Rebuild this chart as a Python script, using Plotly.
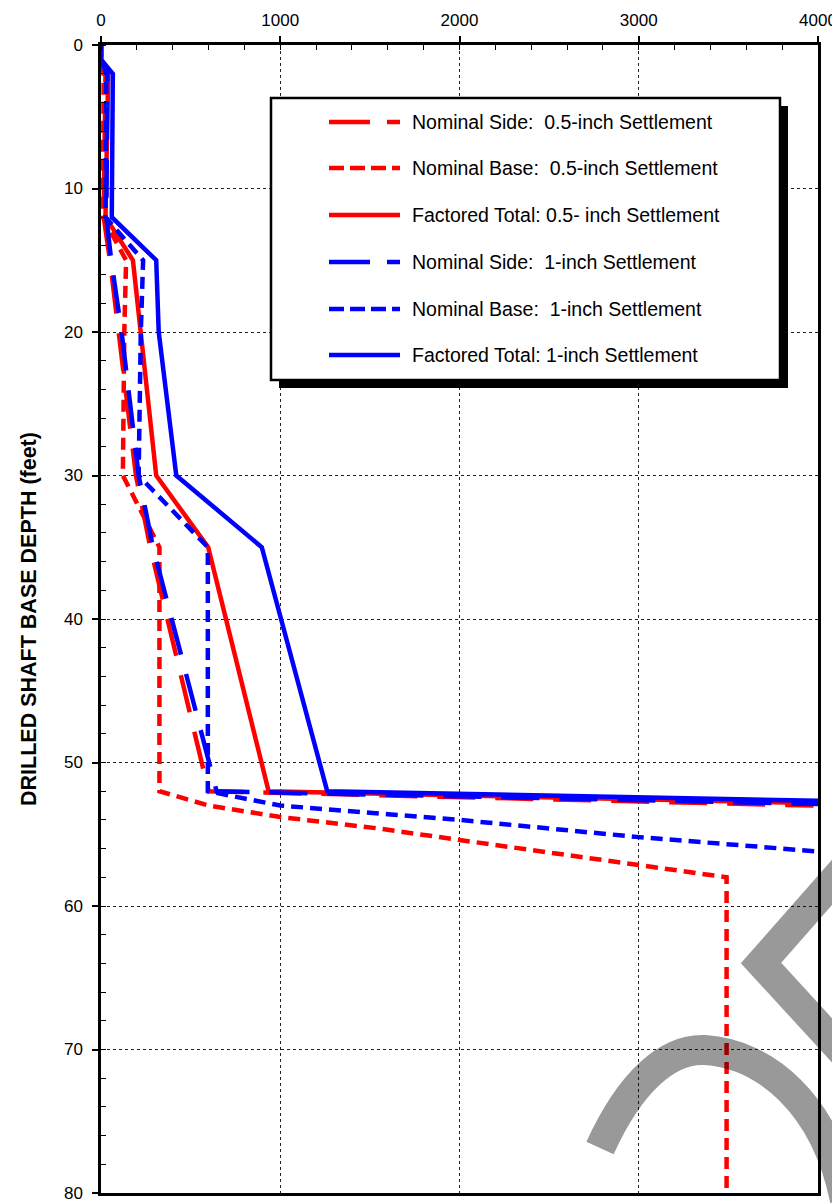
import plotly.graph_objects as go

# ---------------- data ----------------
depth = [0, 1, 2, 12, 15, 20, 30, 35, 52, 53]

side_05 = [0, 0, 25, 15, 50, 100, 195, 275, 600, 3975]
total_05 = [0, 0, 40, 25, 178, 220, 308, 598, 935, 4575]
side_1 = [0, 0, 35, 30, 57, 115, 210, 290, 645, 4391]
total_1 = [0, 0, 66, 60, 308, 322, 420, 897, 1262, 5391]

base_05_depth = [0, 1, 2, 12, 15, 20, 30, 35, 52, 53, 53.8, 54.6, 55.4, 57.1, 58, 80]
base_05 = [0, 0, 15, 10, 140, 130, 122, 326, 326, 600, 1000, 1550, 2000, 3000, 3490, 3490]

base_1_depth = [0, 1, 2, 12, 15, 20, 30, 35, 52, 52.4, 53, 53.6, 54, 55.2, 56.2]
base_1 = [0, 0, 30, 25, 235, 222, 210, 596, 596, 754, 1000, 1600, 2000, 3000, 4000]

x_ticks = [0, 1000, 2000, 3000, 4000]
y_ticks = [0, 10, 20, 30, 40, 50, 60, 70, 80]

names = [
    "Nominal Side: \u00a00.5-inch Settlement",
    "Nominal Base: \u00a00.5-inch Settlement",
    "Factored Total: 0.5- inch Settlement",
    "Nominal Side: \u00a01-inch Settlement",
    "Nominal Base: \u00a01-inch Settlement",
    "Factored Total: 1-inch Settlement",
]

RED = "#FF0000"
BLUE = "#0000FF"
LONG = "38px,20px"
SHORT = "12px,7px"
LW = 4.5

series = [
    (side_05, depth, RED, LONG),
    (base_05, base_05_depth, RED, SHORT),
    (total_05, depth, RED, "solid"),
    (side_1, depth, BLUE, LONG),
    (base_1, base_1_depth, BLUE, SHORT),
    (total_1, depth, BLUE, "solid"),
]

fig = go.Figure()
for (xs, ys, col, dash), nm in zip(series, names):
    fig.add_trace(go.Scatter(x=xs, y=ys, mode="lines", name=nm, showlegend=False,
                             line=dict(color=col, width=LW, dash=dash)))

# ---------------- layout ----------------
# the page body adds an 8px offset
OX, OY = 8, 8
W, H = 832, 1195
PL, PR, PT, PB = 101, 818, 45, 1193          # plot area in page pixels
L, T = PL - OX, PT - OY
R, B = W - (PR - OX), H - (PB - OY)
PW, PH = PR - PL, PB - PT

FONT = "Arial, 'Liberation Sans', sans-serif"

fig.update_layout(
    width=W, height=H,
    margin=dict(l=L, r=R, t=T, b=B, autoexpand=False),
    paper_bgcolor="white", plot_bgcolor="white",
    font=dict(family=FONT, size=16, color="black"),
    xaxis=dict(range=[0, 4000], side="top", tickvals=x_ticks,
               showgrid=True, gridcolor="#222", griddash="dot", gridwidth=1,
               showline=True, linecolor="black", linewidth=2.5, mirror=True,
               ticks="outside", ticklen=6, tickwidth=1.5, tickcolor="black",
               tickfont=dict(size=17), zeroline=False, ticklabelstandoff=3,
               minor=dict(dtick=200, ticks="inside", ticklen=5, tickcolor="black",
                          tickwidth=1, showgrid=False)),
    yaxis=dict(range=[80, 0], tickvals=y_ticks,
               showgrid=True, gridcolor="#222", griddash="dot", gridwidth=1,
               showline=True, linecolor="black", linewidth=2.5, mirror=True,
               ticks="outside", ticklen=6, tickwidth=1.5, tickcolor="black",
               tickfont=dict(size=17), zeroline=False, ticklabelstandoff=6,
               title=dict(text="<b>DRILLED SHAFT BASE DEPTH (feet)</b>",
                          font=dict(size=21.5), standoff=22),
               minor=dict(dtick=2, ticks="inside", ticklen=5, tickcolor="black",
                          tickwidth=1, showgrid=False)),
)


def px(x):
    return (x - PL) / PW


def py(y):
    return 1 - (y - PT) / PH


shapes = []
# legend box with shadow
shapes.append(dict(type="rect", xref="paper", yref="paper",
                   x0=px(279), x1=px(788), y0=py(106), y1=py(388),
                   fillcolor="black", line=dict(width=0), layer="above"))
shapes.append(dict(type="rect", xref="paper", yref="paper",
                   x0=px(271), x1=px(780), y0=py(98), y1=py(380),
                   fillcolor="white", line=dict(color="black", width=2.5), layer="above"))

rows = [122, 168, 215, 262, 309, 355]
leg_dash = ["41px,17px,13px", "15px,6px", "solid", "41px,17px,13px", "15px,6px", "solid"]
leg_col = [RED, RED, RED, BLUE, BLUE, BLUE]
annotations = []
for ry, d, c, nm in zip(rows, leg_dash, leg_col, names):
    shapes.append(dict(type="line", xref="paper", yref="paper",
                       x0=px(329), x1=px(400), y0=py(ry), y1=py(ry),
                       line=dict(color=c, width=LW, dash=d), layer="above"))
    annotations.append(dict(xref="paper", yref="paper", x=px(410), y=py(ry),
                            text=nm, showarrow=False, xanchor="left", yanchor="middle",
                            font=dict(size=19.5, family=FONT, color="black")))


# DRAFT watermark fragments (decoration), page pixel coordinates
def P(x, y):
    return f"{px(x):.5f},{py(y):.5f}"


arc = (f"M {P(600, 1148)} C {P(630, 1082)} {P(668, 1048)} {P(705, 1050)} "
       f"C {P(765, 1054)} {P(825, 1103)} {P(845, 1200)}")
vee = f"M {P(850, 862)} L {P(761, 963)} L {P(850, 1060)}"
for pth in (arc, vee):
    shapes.append(dict(type="path", xref="paper", yref="paper", path=pth,
                       line=dict(color="rgba(0,0,0,0.4)", width=30), layer="above"))

fig.update_layout(shapes=shapes, annotations=annotations)

fig.write_html("out.html")
